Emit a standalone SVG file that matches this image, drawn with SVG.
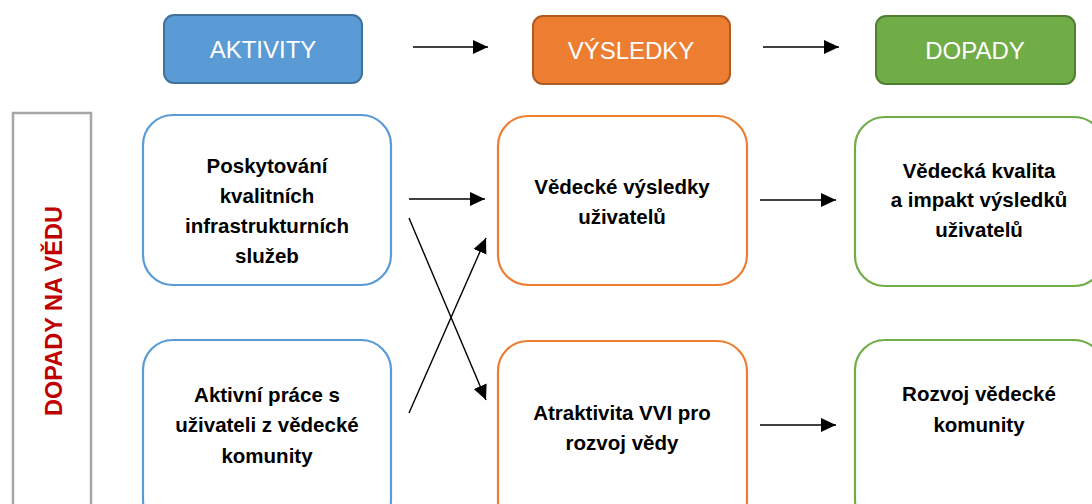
<svg xmlns="http://www.w3.org/2000/svg" width="1092" height="504" viewBox="0 0 1092 504">
<defs>
<style>
.hdr{stroke-width:2}
.hdrtext{font-family:"Liberation Sans",Arial,sans-serif;font-size:24px;fill:#ffffff;text-anchor:middle}
.box{fill:#ffffff;stroke-width:2.2}
.txt{font-family:"Liberation Sans",Arial,sans-serif;font-weight:bold;font-size:20.5px;fill:#000000;text-anchor:middle}
.conn{stroke:#000000;stroke-width:1.4;fill:none;marker-end:url(#arr)}
</style>
<marker id="arr" markerUnits="userSpaceOnUse" markerWidth="16" markerHeight="16" viewBox="0 0 16 14" refX="15" refY="7" orient="auto">
<path d="M0,0 L15,7 L0,14 z" fill="#000000"/>
</marker>
</defs>
<rect width="1092" height="504" fill="#ffffff"/>

<g id="side">
<rect x="13" y="113" width="78" height="400" fill="#ffffff" stroke="#a6a6a6" stroke-width="2.5"/>
<text transform="translate(62,311) rotate(-90)" font-family="'Liberation Sans',Arial,sans-serif" font-weight="bold" font-size="23.5" fill="#c00000" text-anchor="middle">DOPADY NA VĚDU</text>
</g>

<g id="h-aktivity">
<rect class="hdr" x="164" y="15" width="198" height="68" rx="10" fill="#5b9bd5" stroke="#41719c"/>
<text class="hdrtext" x="263" y="58">AKTIVITY</text>
</g>
<g id="h-vysledky">
<rect class="hdr" x="533" y="16" width="197" height="68" rx="10" fill="#ed7d31" stroke="#ae5a21"/>
<text class="hdrtext" x="631" y="59">VÝSLEDKY</text>
</g>
<g id="h-dopady">
<rect class="hdr" x="876" y="16" width="199" height="68" rx="10" fill="#70ad47" stroke="#507e32"/>
<text class="hdrtext" x="975" y="59">DOPADY</text>
</g>

<g id="a1">
<rect class="box" x="143" y="115" width="248" height="170" rx="30" stroke="#5b9bd5"/>
<text class="txt" x="267" y="173">Poskytování</text>
<text class="txt" x="267" y="203">kvalitních</text>
<text class="txt" x="267" y="233">infrastrukturních</text>
<text class="txt" x="267" y="263">služeb</text>
</g>
<g id="a2">
<rect class="box" x="143" y="340" width="248" height="190" rx="30" stroke="#5b9bd5"/>
<text class="txt" x="267" y="402">Aktivní práce s</text>
<text class="txt" x="267" y="432">uživateli z vědecké</text>
<text class="txt" x="267" y="463">komunity</text>
</g>
<g id="v1">
<rect class="box" x="498" y="116" width="249" height="169" rx="30" stroke="#ed7d31"/>
<text class="txt" x="622" y="194">Vědecké výsledky</text>
<text class="txt" x="622" y="224">uživatelů</text>
</g>
<g id="v2">
<rect class="box" x="498" y="341" width="249" height="190" rx="30" stroke="#ed7d31"/>
<text class="txt" x="622" y="420">Atraktivita VVI pro</text>
<text class="txt" x="622" y="450">rozvoj vědy</text>
</g>
<g id="d1">
<rect class="box" x="855" y="117" width="249" height="169" rx="30" stroke="#70ad47"/>
<text class="txt" x="979" y="178">Vědecká kvalita</text>
<text class="txt" x="979" y="207">a impakt výsledků</text>
<text class="txt" x="979" y="237">uživatelů</text>
</g>
<g id="d2">
<rect class="box" x="855" y="340" width="249" height="190" rx="30" stroke="#70ad47"/>
<text class="txt" x="979" y="401">Rozvoj vědecké</text>
<text class="txt" x="979" y="432">komunity</text>
</g>

<g id="connectors">
<line class="conn" x1="413" y1="47" x2="488" y2="47"/>
<line class="conn" x1="763" y1="47" x2="839" y2="47"/>
<line class="conn" x1="409" y1="199" x2="485" y2="199"/>
<line class="conn" x1="409" y1="218" x2="486" y2="400"/>
<line class="conn" x1="409" y1="413" x2="486" y2="238"/>
<line class="conn" x1="760" y1="200" x2="836" y2="200"/>
<line class="conn" x1="760" y1="425" x2="836" y2="425"/>
</g>
</svg>
